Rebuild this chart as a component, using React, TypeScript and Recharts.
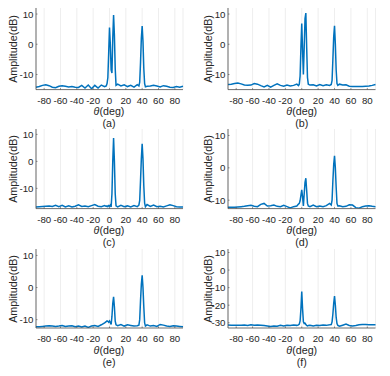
import { LineChart, Line, XAxis, YAxis, CartesianGrid } from 'recharts';

// angle samples (deg): coarse on the floor, 1 deg around the peaks
const THETA = [
  -90, -86, -82, -78, -74, -70, -66, -62, -58, -54, -50, -46, -42, -38, -34, -30, -26, -22, -18, -14, -10, -6,
  -4, -3, -2, -1, 0, 1, 2, 3, 4, 5, 6, 7, 8,
  10, 14, 18, 22, 26, 30, 34,
  36, 37, 38, 39, 40, 41, 42, 43, 44,
  46, 50, 54, 58, 62, 66, 70, 74, 78, 82, 86, 90,
];

const AMP_A = [
  -14.2, -14.0, -13.6, -13.4, -13.7, -14.2, -14.4, -13.9, -13.7, -13.9, -14.1, -14.0, -14.2, -14.3, -13.6, -14.5, -13.5, -14.7, -13.6, -14.5, -13.5, -14.0,
  -13.8, -13.0, -11.0, -3.0, 5.5, 0.0, -8.5, -9.5, 2.0, 9.7, 3.0, -8.0, -13.6,
  -13.2, -13.8, -13.4, -14.0, -13.6, -14.2, -13.4,
  -13.8, -12.5, -6.0, 2.0, 6.0, 1.0, -8.0, -13.0, -14.1,
  -13.9, -13.8, -13.6, -13.8, -14.1, -13.7, -13.9, -14.2, -14.3, -14.0, -14.2, -13.9,
];

const AMP_B = [
  -13.3, -13.2, -13.0, -12.8, -13.1, -13.5, -13.6, -13.5, -13.0, -13.2, -13.7, -14.1, -13.6, -14.2, -13.6, -13.1, -13.6, -13.9, -13.5, -13.8, -13.6, -13.2,
  -13.7, -13.2, -10.5, -1.0, 6.9, -2.0, -10.0, -1.0, 8.5, 10.3, -1.0, -11.0, -13.2,
  -13.5, -13.4, -13.8, -13.3, -13.7, -13.4, -13.6,
  -13.3, -12.0, -5.0, 2.5, 6.1, 0.0, -8.5, -13.0, -13.6,
  -13.2, -13.5, -13.4, -13.9, -14.0, -14.0, -14.0, -14.0, -13.9, -13.8, -13.6, -13.3,
];

const AMP_C = [
  -16.9, -16.8, -16.7, -16.6, -16.5, -16.7, -16.3, -16.8, -16.3, -16.9, -16.5, -16.9, -16.6, -16.1, -16.7, -16.5, -16.8, -16.4, -16.0, -16.6, -16.8, -16.4,
  -16.7, -16.5, -16.8, -16.4, -16.6, -16.2, -16.9, -12.0, 0.0, 8.7, 0.0, -12.0, -16.5,
  -16.9, -16.3, -16.8, -16.5, -16.9, -16.4, -16.8,
  -16.2, -14.5, -7.0, 1.0, 6.5, 1.0, -9.0, -15.5, -16.8,
  -16.0, -16.7, -16.2, -16.8, -16.6, -16.9, -16.5, -16.1, -16.4, -16.8, -16.9, -16.9,
];

const AMP_D = [
  -12.2, -12.2, -12.2, -12.1, -12.0, -11.9, -11.7, -11.6, -11.9, -12.0, -11.3, -11.0, -11.8, -11.7, -11.5, -11.9, -12.0, -11.6, -12.0, -12.4, -12.0, -11.8,
  -11.2, -11.0, -10.2, -8.5, -6.8, -9.0, -11.8, -8.0, -4.5, -3.2, -7.0, -11.0, -11.8,
  -12.0, -11.5, -12.0, -11.8, -12.0, -11.7, -11.0,
  -11.5, -10.0, -4.0, 1.0, 3.7, 0.0, -6.0, -11.0, -11.8,
  -11.7, -12.0, -11.9, -11.4, -11.5, -12.3, -12.5, -12.0, -11.8, -11.7, -11.9, -12.0,
];

const AMP_E = [
  -12.2, -12.2, -12.1, -12.0, -11.9, -12.0, -12.1, -12.0, -11.8, -12.1, -12.0, -11.9, -12.2, -12.0, -12.3, -12.0, -12.4, -12.0, -11.8, -12.1, -11.6, -11.0,
  -10.6, -10.4, -10.5, -10.8, -10.4, -10.9, -11.5, -9.0, -5.0, -2.9, -6.0, -10.5, -11.6,
  -11.9, -11.5, -12.0, -11.6, -11.8, -12.0, -11.9,
  -11.7, -10.0, -4.0, 1.0, 3.8, 0.0, -6.0, -11.0, -12.0,
  -11.6, -12.0, -11.8, -12.1, -11.5, -11.7, -12.0, -12.1, -11.9, -12.0, -12.1, -12.2,
];

const AMP_F = [
  -31.3, -31.4, -31.5, -31.4, -31.5, -31.3, -31.6, -31.2, -31.4, -31.3, -31.4, -31.6, -31.8, -32.2, -31.8, -32.0, -31.5, -31.9, -31.4, -31.6, -31.3, -31.5,
  -31.2, -30.8, -29.0, -22.0, -12.3, -22.0, -29.5, -30.5, -30.3, -31.0, -31.5, -31.8, -31.6,
  -31.4, -31.8, -31.5, -31.6, -31.3, -31.5, -31.2,
  -31.0, -29.5, -25.0, -19.0, -14.8, -20.0, -27.0, -30.5, -31.5,
  -32.0, -31.4, -30.8, -31.6, -31.8, -31.6, -31.2, -31.0, -31.0, -31.1, -31.2, -31.2,
];

const X_TICKS = [-80, -60, -40, -20, 0, 20, 40, 60, 80];
const Y_TICKS = [-10, 0, 10];
const Y_TICKS_F = [-30, -20, -10, 0, 10];
const CAPTIONS = ['(a)', '(b)', '(c)', '(d)', '(e)', '(f)'];

const FONT = '"Liberation Sans", Arial, Helvetica, sans-serif';
const INK = '#262626';
const AXIS = '#4a4a4a';
const BLUE = '#0072BD';

// plot box of each subplot in page pixels
const panels = [
  { values: AMP_A, yMin: -15, yTicks: Y_TICKS, left: 35.5, top: 7.7, w: 147, h: 81.6, labelX: 13 },
  { values: AMP_B, yMin: -15, yTicks: Y_TICKS, left: 228, top: 7.7, w: 147.5, h: 81.6, labelX: 208 },
  { values: AMP_C, yMin: -17.5, yTicks: Y_TICKS, left: 35.5, top: 128.7, w: 147, h: 79.6, labelX: 13 },
  { values: AMP_D, yMin: -12.6, yTicks: Y_TICKS, left: 228, top: 128.7, w: 147.5, h: 79.6, labelX: 208 },
  { values: AMP_E, yMin: -12.6, yTicks: Y_TICKS, left: 35.5, top: 249, w: 147, h: 79, labelX: 13 },
  { values: AMP_F, yMin: -33, yTicks: Y_TICKS_F, left: 228, top: 249, w: 147.5, h: 79, labelX: 208 },
];

const Y_MAX = 12;
const YAXIS_W = 36;
const XAXIS_H = 36;
const TOP_M = 8;
const RIGHT_M = 10;

const textStyle = { fontFamily: FONT, fill: INK };

function BottomTick(props: any) {
  const { x, y, payload } = props;
  return (
    <g>
      <line x1={x} x2={x} y1={y} y2={y - 1.5} stroke={AXIS} strokeWidth={0.6} />
      <text x={x} y={y + 10.5} textAnchor="middle" dominantBaseline="central" fontSize={9.7} {...textStyle}>
        {payload.value}
      </text>
    </g>
  );
}

function LeftTick(props: any) {
  const { x, y, payload } = props;
  return (
    <g>
      <line x1={x} x2={x + 1.5} y1={y} y2={y} stroke={AXIS} strokeWidth={0.6} />
      <text x={x - 2.5} y={y} textAnchor="end" dominantBaseline="central" fontSize={9.7} {...textStyle}>
        {payload.value}
      </text>
    </g>
  );
}

function TopTick(props: any) {
  const { x, y } = props;
  return <line x1={x} x2={x} y1={y} y2={y + 1.5} stroke={AXIS} strokeWidth={0.6} />;
}

function RightTick(props: any) {
  const { x, y } = props;
  return <line x1={x} x2={x - 1.5} y1={y} y2={y} stroke={AXIS} strokeWidth={0.6} />;
}

function Panel({ p, caption }: { p: (typeof panels)[number]; caption: string }) {
  const data = THETA.map((t, i) => ({ t, v: p.values[i] }));
  const width = YAXIS_W + p.w + RIGHT_M;
  const height = TOP_M + p.h + XAXIS_H;
  const midX = p.left + p.w / 2;
  const bottom = p.top + p.h;
  const axisLine = { stroke: AXIS, strokeWidth: 0.8 };
  return (
    <>
      <div style={{ position: 'absolute', left: p.left - YAXIS_W, top: p.top - TOP_M }}>
        <LineChart width={width} height={height} data={data} margin={{ top: TOP_M, right: RIGHT_M, left: 0, bottom: 0 }}>
          <CartesianGrid horizontal={false} stroke="#e2e2e2" strokeWidth={0.6} />
          <XAxis
            dataKey="t"
            type="number"
            domain={[-90, 90]}
            ticks={X_TICKS}
            interval={0}
            height={XAXIS_H}
            tickSize={0}
            tickMargin={0}
            tickLine={false}
            axisLine={axisLine}
            tick={BottomTick}
          />
          <XAxis
            xAxisId="top"
            orientation="top"
            dataKey="t"
            type="number"
            domain={[-90, 90]}
            ticks={X_TICKS}
            interval={0}
            height={0}
            tickSize={0}
            tickMargin={0}
            tickLine={false}
            axisLine={axisLine}
            tick={TopTick}
          />
          <YAxis
            type="number"
            domain={[p.yMin, Y_MAX]}
            ticks={p.yTicks}
            interval={0}
            allowDataOverflow
            width={YAXIS_W}
            tickSize={0}
            tickMargin={0}
            tickLine={false}
            axisLine={axisLine}
            tick={LeftTick}
          />
          <YAxis
            yAxisId="right"
            orientation="right"
            type="number"
            domain={[p.yMin, Y_MAX]}
            ticks={p.yTicks}
            interval={0}
            allowDataOverflow
            width={0}
            tickSize={0}
            tickMargin={0}
            tickLine={false}
            axisLine={axisLine}
            tick={RightTick}
          />
          <Line type="linear" dataKey="v" stroke={BLUE} strokeWidth={1.5} dot={false} isAnimationActive={false} />
        </LineChart>
      </div>
      <div
        style={{
          position: 'absolute',
          left: p.labelX,
          top: p.top + p.h / 2,
          transform: 'translate(-50%, -50%) rotate(-90deg)',
          fontFamily: FONT,
          fontSize: 10.7,
          color: INK,
          whiteSpace: 'nowrap',
          lineHeight: 1,
        }}
      >
        Amplitude(dB)
      </div>
      <div
        style={{
          position: 'absolute',
          left: midX,
          top: bottom + 22,
          transform: 'translate(-50%, -50%)',
          fontFamily: FONT,
          fontSize: 10.7,
          color: INK,
          whiteSpace: 'nowrap',
          lineHeight: 1,
        }}
      >
        <span style={{ fontStyle: 'italic' }}>θ</span>(deg)
      </div>
      <div
        style={{
          position: 'absolute',
          left: midX,
          top: bottom + 33.5,
          transform: 'translate(-50%, -50%)',
          fontFamily: FONT,
          fontSize: 10.7,
          color: INK,
          whiteSpace: 'nowrap',
          lineHeight: 1,
        }}
      >
        {caption}
      </div>
    </>
  );
}

export default function App() {
  return (
    <div style={{ position: 'absolute', left: 0, top: 0, width: 390, height: 376, background: '#fff', overflow: 'hidden' }}>
      {panels.map((p, i) => (
        <Panel key={CAPTIONS[i]} p={p} caption={CAPTIONS[i]} />
      ))}
    </div>
  );
}
